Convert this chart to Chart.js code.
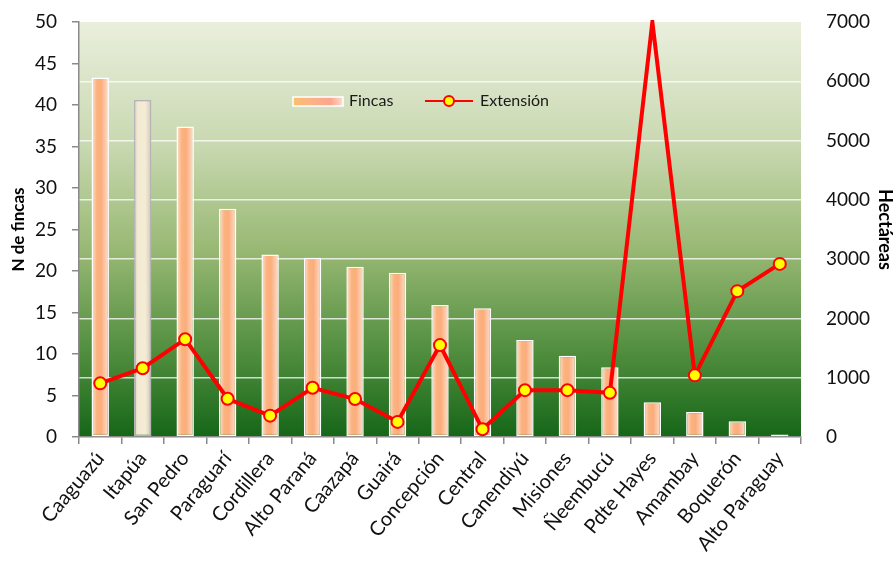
<!DOCTYPE html>
<html>
<head>
<meta charset="utf-8">
<script src="https://cdn.jsdelivr.net/npm/chart.js@4.4.1/dist/chart.umd.min.js"></script>
<style>
  html, body { margin: 0; padding: 0; background: #fff; }
  #wrap { width: 896px; height: 562px; }
</style>
</head>
<body>
<div id="wrap"><canvas id="chart" width="896" height="562"></canvas></div>
<script>
// ---------------- data ----------------
var departamentos = ['Caaguazú','Itapúa','San Pedro','Paraguarí','Cordillera','Alto Paraná','Caazapá','Guairá',
  'Concepción','Central','Canendiyú','Misiones','Ñeembucú','Pdte Hayes','Amambay','Boquerón','Alto Paraguay'];
var fincas    = [43.3, 40.6, 37.4, 27.5, 22.0, 21.6, 20.5, 19.8, 15.9, 15.5, 11.7, 9.8, 8.4, 4.2, 3.0, 1.9, 0.3];
var extension = [905, 1160, 1650, 645, 360, 830, 640, 255, 1550, 130, 790, 790, 745, 7000, 1040, 2460, 2920];
var fincasTicks = [0, 5, 10, 15, 20, 25, 30, 35, 40, 45, 50];
var haTicks = [0, 1000, 2000, 3000, 4000, 5000, 6000, 7000];

var highlight = 'Itapúa';
var FONT = 'Lato, "Open Sans", sans-serif';
var BAR_PCT = 0.41;

function barFill(c) {
  var chart = c.chart;
  if (!chart.chartArea || c.dataIndex === undefined) return '#fbb683';
  var xs = chart.scales.x;
  var cx = xs.getPixelForValue(c.dataIndex);
  var w = xs.width / departamentos.length * BAR_PCT;
  var g = chart.ctx.createLinearGradient(cx - w / 2, 0, cx + w / 2, 0);
  if (departamentos[c.dataIndex] === highlight) {
    g.addColorStop(0, '#ddd6c2');
    g.addColorStop(0.25, '#f3ead3');
    g.addColorStop(0.65, '#f5ecd6');
    g.addColorStop(1, '#cfc8b4');
  } else {
    g.addColorStop(0, '#fde6d8');
    g.addColorStop(0.3, '#fbb37f');
    g.addColorStop(0.55, '#fbad7c');
    g.addColorStop(1, '#fde2d4');
  }
  return g;
}

// y axes: no extra room above/below for half tick labels
function fixVertical(width) {
  return function (s) {
    s.width = width;
    s.paddingTop = 0;
    s.paddingBottom = 0;
  };
}

//-------------------- plot area background --------------------
var plotBg = {
  id: 'plotBg',
  beforeDraw: function (chart) {
    var a = chart.chartArea, ctx = chart.ctx;
    var g = ctx.createLinearGradient(0, a.top, 0, a.bottom);
    g.addColorStop(0, '#eaefdd');
    g.addColorStop(0.3, '#c8d8b0');
    g.addColorStop(0.55, '#98b873');
    g.addColorStop(0.8, '#4f8d3d');
    g.addColorStop(1, '#166618');
    ctx.save();
    ctx.fillStyle = g;
    ctx.fillRect(a.left, a.top, a.right - a.left, a.bottom - a.top);
    ctx.restore();
  }
};

//-------------------- legend inside the plot --------------------
var innerLegend = {
  id: 'innerLegend',
  afterDraw: function (chart) {
    var a = chart.chartArea, ctx = chart.ctx;
    var x0 = a.left + 214, y0 = a.top + 79;
    ctx.save();
    // bar swatch
    var g = ctx.createLinearGradient(x0, 0, x0 + 50, 0);
    g.addColorStop(0, '#fbbf6e');
    g.addColorStop(0.45, '#fbb08a');
    g.addColorStop(0.75, '#fca58a');
    g.addColorStop(1, '#fde0d2');
    ctx.fillStyle = g;
    ctx.fillRect(x0, y0 - 4, 50, 9);
    ctx.strokeStyle = '#ffffff';
    ctx.lineWidth = 1.5;
    ctx.strokeRect(x0, y0 - 4, 50, 9);
    ctx.fillStyle = '#1a1a1a';
    ctx.font = '16px ' + FONT;
    ctx.textBaseline = 'middle';
    ctx.fillText('Fincas', x0 + 56, y0);
    // line swatch
    var lx = x0 + 132;
    ctx.strokeStyle = '#ff0000';
    ctx.lineWidth = 2;
    ctx.beginPath();
    ctx.moveTo(lx, y0);
    ctx.lineTo(lx + 48, y0);
    ctx.stroke();
    ctx.beginPath();
    ctx.arc(lx + 24, y0, 5, 0, Math.PI * 2);
    ctx.fillStyle = '#ffff00';
    ctx.fill();
    ctx.lineWidth = 2;
    ctx.stroke();
    ctx.fillStyle = '#1a1a1a';
    ctx.fillText('Extensión', lx + 55, y0);
    ctx.restore();
  }
};

const CHART = document.getElementById('chart');
let comboChart = new Chart(CHART, {
  type: 'bar',
  data: {
    labels: departamentos,
    datasets: [
      {
        type: 'line',
        label: 'Extensión',
        data: extension,
        yAxisID: 'y1',
        borderColor: '#ff0000',
        borderWidth: 4,
        pointRadius: extension.map(function (v) { return v >= 7000 ? 0 : 6; }),
        pointBackgroundColor: '#ffff00',
        pointBorderColor: '#ff0000',
        pointBorderWidth: 2,
        tension: 0,
        clip: 2,
        order: 1
      },
      {
        label: 'Fincas',
        data: fincas,
        yAxisID: 'y',
        backgroundColor: barFill,
        borderColor: departamentos.map(function (d) { return d === highlight ? '#b5b5b5' : '#ffffff'; }),
        borderWidth: 1.5,
        borderSkipped: false,
        categoryPercentage: 1,
        barPercentage: BAR_PCT,
        order: 2
      }
    ]
  },
  options: {
    responsive: false,
    animation: false,
    layout: { padding: { top: 22, left: 0, right: 0, bottom: 0 } },
    plugins: {
      legend: { display: false },
      tooltip: { enabled: false }
    },
    scales: {
      x: {
        offset: true,
        grid: { offset: true, drawOnChartArea: false, tickLength: 7, color: '#8a8a8a', lineWidth: 1.5 },
        border: { color: '#8a8a8a', width: 1.5 },
        ticks: {
          autoSkip: false, minRotation: 50, maxRotation: 50, padding: 3,
          color: '#111', font: { family: FONT, size: 20 }
        },
        afterFit: function (s) { s.height = 125; }
      },
      y: {
        position: 'left',
        min: 0, max: 50,
        afterBuildTicks: function (s) { s.ticks = fincasTicks.map(function (v) { return { value: v }; }); },
        grid: { drawOnChartArea: false, tickLength: 7, color: '#8a8a8a', lineWidth: 1.5 },
        border: { color: '#8a8a8a', width: 1.5 },
        ticks: { padding: 15, color: '#111', font: { family: FONT, size: 19 } },
        title: { display: true, text: 'N de fincas', color: '#000', padding: { top: 8, bottom: 0 },
                 font: { family: FONT, size: 17, weight: 'bold' } },
        afterFit: fixVertical(79)
      },
      y1: {
        position: 'right',
        min: 0, max: 7000,
        afterBuildTicks: function (s) { s.ticks = haTicks.map(function (v) { return { value: v }; }); },
        grid: {
          drawTicks: false,
          color: function (c) { return (c.tick && c.tick.value > 0 && c.tick.value < 7000) ? 'rgba(255,255,255,0.75)' : 'rgba(0,0,0,0)'; },
          lineWidth: 1.5
        },
        border: { display: false },
        ticks: {
          padding: 25, color: '#111', font: { family: FONT, size: 19 },
          callback: function (v) { return String(v); }
        },
        title: { display: true, text: 'Hectáreas', color: '#000', padding: 0,
                 font: { family: FONT, size: 18, weight: 'bold' } },
        afterFit: fixVertical(95)
      }
    }
  },
  plugins: [plotBg, innerLegend]
});
</script>
</body>
</html>
